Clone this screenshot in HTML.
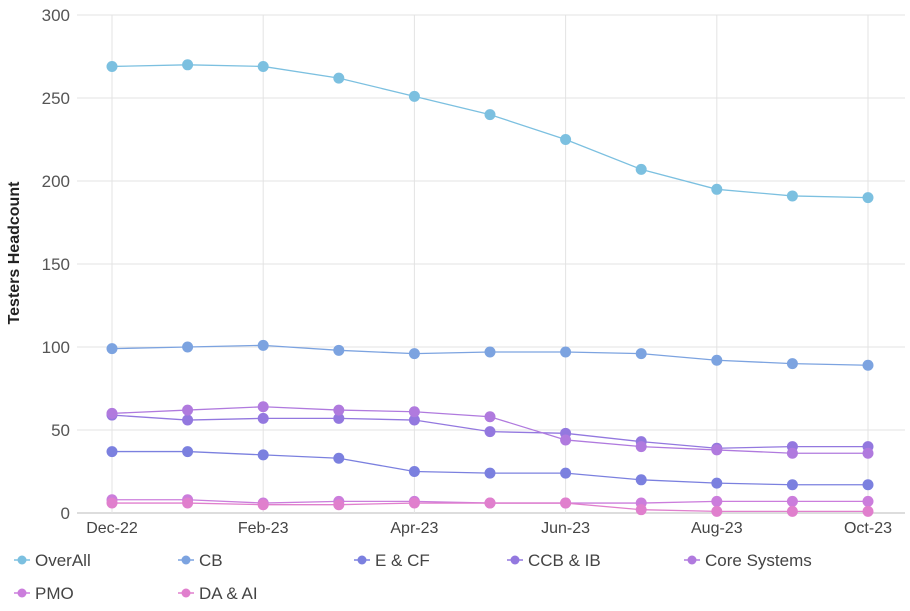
<!DOCTYPE html>
<html><head><meta charset="utf-8"><style>
body{margin:0;background:#fff;font-family:"Liberation Sans",sans-serif;}
svg text{font-family:"Liberation Sans",sans-serif;}
</style></head><body>
<svg id="c" width="910" height="606"></svg>
<script>
const categories=["Dec-22","Jan-23","Feb-23","Mar-23","Apr-23","May-23","Jun-23","Jul-23","Aug-23","Sep-23","Oct-23"];
const seriesNames=["OverAll","CB","E & CF","CCB & IB","Core Systems","PMO","DA & AI"];
const overall=[269,270,269,262,251,240,225,207,195,191,190];
const cb=[99,100,101,98,96,97,97,96,92,90,89];
const ecf=[37,37,35,33,25,24,24,20,18,17,17];
const ccbib=[59,56,57,57,56,49,48,43,39,40,40];
const core=[60,62,64,62,61,58,44,40,38,36,36];
const pmo=[8,8,6,7,7,6,6,6,7,7,7];
const daai=[6,6,5,5,6,6,6,2,1,1,1];
const yTicks=[0,50,100,150,200,250,300];
const colors=["#7cc0e0","#7ca3e0","#7b80df","#9378df","#b07ade","#cb7ddc","#e07fcd"];
const NS="http://www.w3.org/2000/svg";
const svg=document.getElementById('c');
const x=i=>112+i*75.6;
const y=v=>513-v*(498/300);
function mk(t,a,p){const e=document.createElementNS(NS,t);for(const k in a)e.setAttribute(k,a[k]);(p||svg).appendChild(e);return e;}
const grid=mk('g',{});


yTicks.forEach(t=>{
 mk('line',{x1:77,x2:905,y1:y(t),y2:y(t),stroke:t===0?'#bbb':'#e3e3e3','stroke-width':1},grid);
 const tx=mk('text',{x:70,y:y(t)+6,'text-anchor':'end','font-size':17,fill:'#555'});
 tx.textContent=t;
 
 
});
categories.forEach((c,i)=>{
 if(i%2===0){
 mk('line',{x1:x(i),x2:x(i),y1:15,y2:513,stroke:'#e3e3e3'},grid);
 const tx=mk('text',{x:x(i),y:533,'text-anchor':'middle','font-size':16,fill:'#444'});
 tx.textContent=c;
 
 
 }
});
const yt=mk('text',{x:0,y:0,transform:'translate(19,253) rotate(-90)','text-anchor':'middle','font-size':16,'font-weight':'bold',fill:'#222'});
yt.textContent='Testers Headcount';


const data=[overall,cb,ecf,ccbib,core,pmo,daai];
data.forEach((s,k)=>{
 const g=mk('g',{});
 
 
 mk('polyline',{points:s.map((v,i)=>x(i)+','+y(v)).join(' '),fill:'none',stroke:colors[k],'stroke-width':1.3},g);
 s.forEach((v,i)=>{
  const p=mk('circle',{cx:x(i),cy:y(v),r:5.5,fill:colors[k]},g);
  
  
 });
});
const lx=[22,186,362,515,692,22,186];
const ly=[560,560,560,560,560,593,593];
seriesNames.forEach((n,k)=>{
 const g=mk('g',{});
 
 
 mk('line',{x1:lx[k]-8,x2:lx[k]+8,y1:ly[k],y2:ly[k],stroke:colors[k],'stroke-width':1.5},g);
 mk('circle',{cx:lx[k],cy:ly[k],r:4.5,fill:colors[k]},g);
 const t=mk('text',{x:lx[k]+13,y:ly[k]+6,'font-size':17,fill:'#444'},g);
 t.textContent=n;
});
</script>
</body></html>
